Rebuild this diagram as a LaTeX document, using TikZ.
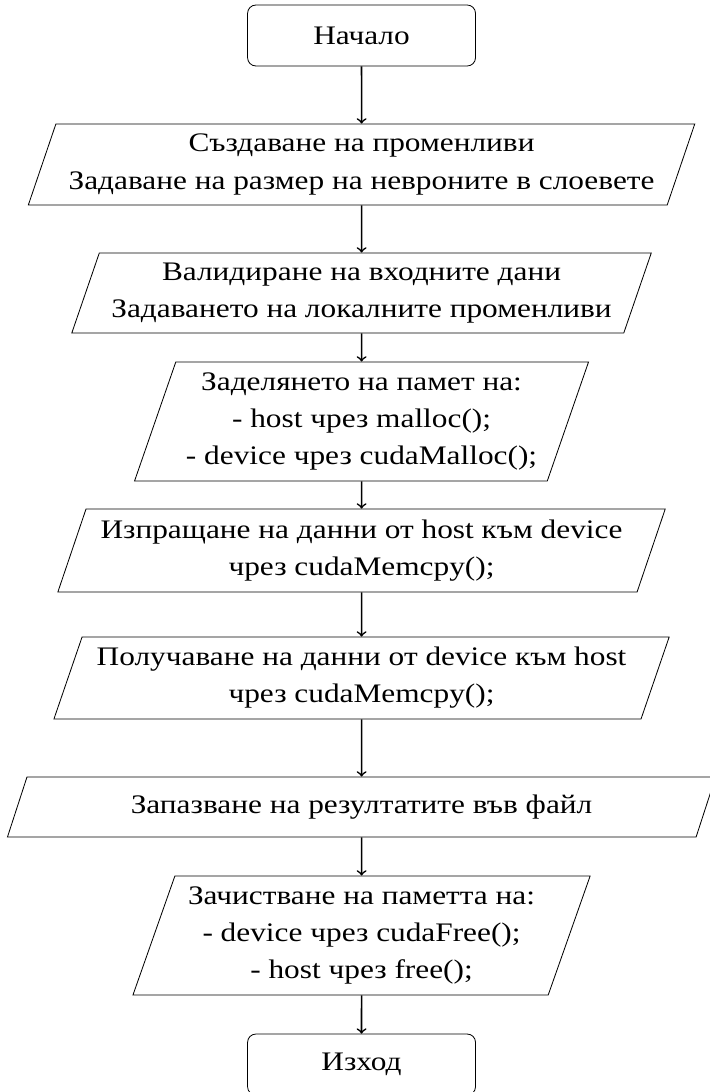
\documentclass[tikz,border=0pt]{standalone}
\usepackage{fontspec}
\setmainfont{Liberation Serif}[FakeStretch=1.17]
\usetikzlibrary{shapes.geometric,positioning}

\tikzset{
    startstop/.style={rectangle, rounded corners, draw=black, minimum width=3.89cm, minimum height=1.04cm, font=\fontsize{13}{18}\selectfont},
    io/.style={trapezium, trapezium left angle=70, trapezium right angle=110, trapezium stretches=true, draw=black, align=center, font=\fontsize{13}{18}\selectfont},
    arrow/.style={thick,->}
}

\begin{document}
\begin{tikzpicture}
    \useasboundingbox (0,0) rectangle (12.10,-18.636);
    \node (start) [startstop] at (6.17,-0.606) {Начало};
    \node (vars) [io, minimum width=11.40cm, minimum height=1.382cm] at (6.17,-2.807) {Създаване на променливи\\Задаване на размер на невроните в слоевете};
    \node (valid) [io, minimum width=9.915cm, minimum height=1.365cm] at (6.17,-5.000) {Валидиране на входните дани\\Задаването на локалните променливи};
    \node (alloc) [io, minimum width=7.765cm, minimum height=2.031cm] at (6.17,-7.193) {Заделянето на памет на:\\- host чрез malloc();\\- device чрез cudaMalloc();};
    \node (send) [io, minimum width=10.393cm, minimum height=1.416cm] at (6.17,-9.395) {Изпращане на данни от host към device\\чрез cudaMemcpy();};
    \node (recv) [io, minimum width=10.53cm, minimum height=1.399cm] at (6.17,-11.571) {Получаване на данни от device към host\\чрез cudaMemcpy();};
    \node (save) [io, minimum width=12.10cm, minimum height=1.024cm] at (6.17,-13.772) {Запазване на резултатите във файл};
    \node (free) [io, minimum width=7.816cm, minimum height=2.031cm] at (6.17,-15.965) {Зачистване на паметта на:\\- device чрез cudaFree();\\- host чрез free();};
    \node (stop) [startstop] at (6.17,-18.167) {Изход};

    \draw [arrow] (start) -- (vars);
    \draw [arrow] (vars) -- (valid);
    \draw [arrow] (valid) -- (alloc);
    \draw [arrow] (alloc) -- (send);
    \draw [arrow] (send) -- (recv);
    \draw [arrow] (recv) -- (save);
    \draw [arrow] (save) -- (free);
    \draw [arrow] (free) -- (stop);
\end{tikzpicture}
\end{document}
